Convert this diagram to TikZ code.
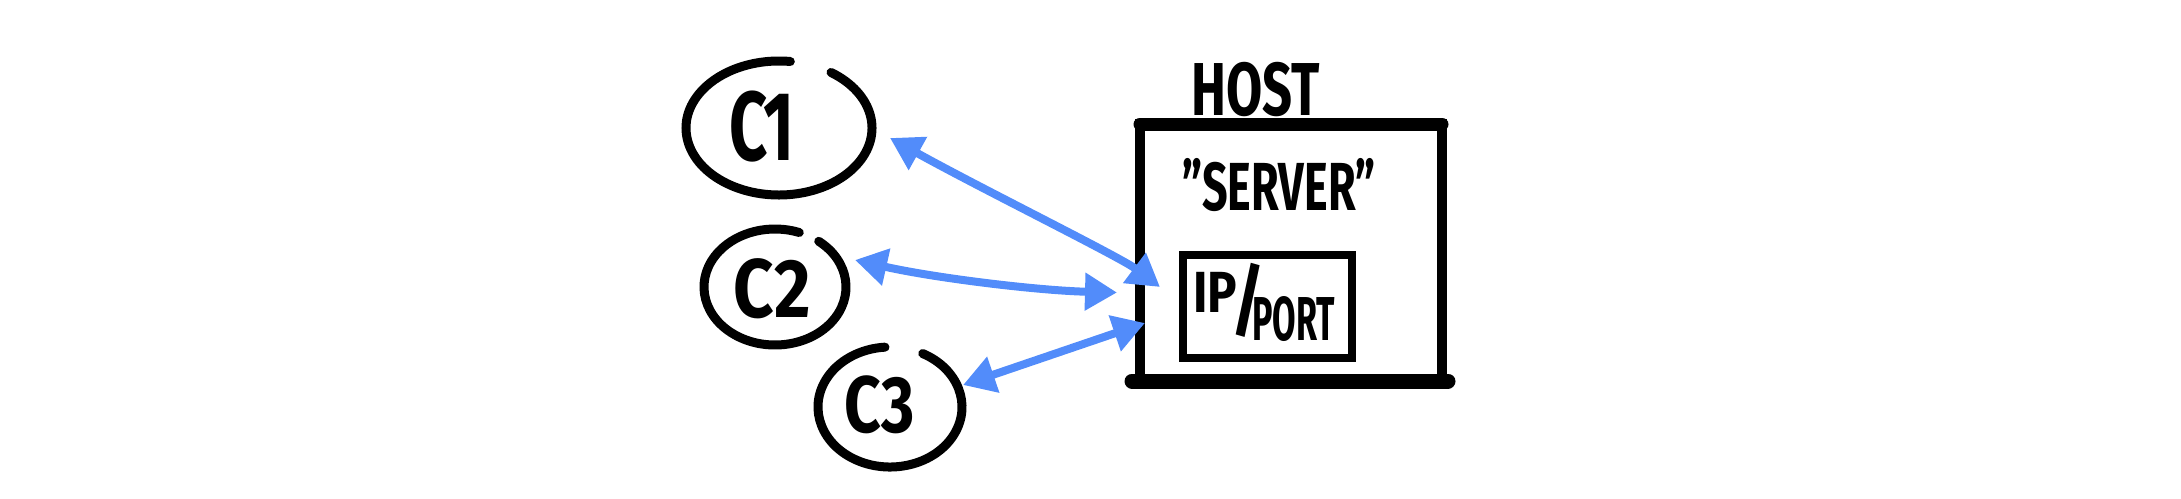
\documentclass[tikz,border=0pt]{standalone}
\usepackage{fontspec}
\setmainfont{Fira Sans}
\usetikzlibrary{arrows.meta,shapes.geometric,calc}
\definecolor{blu}{RGB}{82,140,250}
\newcommand{\handtxt}[3]{\scalebox{#2}[1]{\fontsize{#1}{#1}\selectfont\bfseries #3}}
\tikzset{
  every node/.style={outer sep=0pt},
  ink/.style={line width=9pt, line cap=round, black},
  client/.style={ellipse, draw=none, inner sep=0pt},
  lbl/.style={anchor=base, inner sep=0pt},
  box/.style={draw, inner sep=0pt},
  link/.style={blu, line width=8pt, line cap=round,
    {Triangle[length=32pt,width=36pt]}-{Triangle[length=32pt,width=36pt]}},
}
\begin{document}
\begin{tikzpicture}[x=1pt,y=-1pt]
\useasboundingbox (0,0) rectangle (2181,498);
% clients
\node[client, minimum width=186pt, minimum height=134pt] (c1) at (779,128) {};
\node[client, minimum width=142pt, minimum height=116pt] (c2) at (775,287) {};
\node[client, minimum width=144pt, minimum height=120pt] (c3) at (890,407) {};
\draw[ink] ([shift={(-56:93 and 67)}]c1.center) arc[start angle=-56,end angle=277,x radius=93,y radius=67];
\draw[ink] ([shift={(-52:71 and 58)}]c2.center) arc[start angle=-52,end angle=290,x radius=71,y radius=58];
\draw[ink] ([shift={(-63:72 and 60)}]c3.center) arc[start angle=-63,end angle=266,x radius=72,y radius=60];
\node[lbl] (t1) at (762,160) {\handtxt{98pt}{0.68}{C1}};
\node[lbl] (t2) at (772,317) {\handtxt{83pt}{0.85}{C2}};
\node[lbl] (t3) at (880,432) {\handtxt{80pt}{0.8}{C3}};
% host
\node[box, line width=10pt, minimum width=302pt, minimum height=257pt] (host) at (1291,252.5) {};
\draw[line width=13pt, line cap=round] (host.north west) -- (host.north east);
\draw[line width=15pt, line cap=round] ([xshift=-8pt]host.south west) -- ([xshift=6pt]host.south east);
\node[lbl] (hostlbl) at (1256,115) {\handtxt{75pt}{0.7}{HOST}};
\node[lbl] (srv) at (1279,210) {\handtxt{68pt}{0.66}{"SERVER"}};
\node[box, line width=7.5pt, minimum width=169pt, minimum height=103pt] (ip) at (1267.5,306.5) {};
\node[anchor=base west, inner sep=0pt] (iptxt) at (1193,312) {\handtxt{58pt}{0.85}{IP}\kern-6pt\raisebox{-16pt}{\handtxt{80pt}{0.8}{/}}\kern-12pt\raisebox{-28pt}{\handtxt{62pt}{0.55}{PORT}}};
% connectors
\coordinate (a1s) at ([shift={(18,10)}]c1.east);
\coordinate (a1e) at ([shift={(20,34.5)}]host.west);
\coordinate (a2s) at ([shift={(9,-27)}]c2.east);
\coordinate (a2e) at ([shift={(-23,40)}]host.west);
\coordinate (a3s) at ([shift={(1,-22)}]c3.east);
\coordinate (a3e) at ([shift={(5,70.5)}]host.west);
\draw[link] (a1s) .. controls +(90,50) and +(-40,-30) .. (a1e);
\draw[link] (a2s) .. controls +(80,18) and +(-80,-2) .. (a2e);
\draw[link] (a3s) -- (a3e);
\end{tikzpicture}
\end{document}
